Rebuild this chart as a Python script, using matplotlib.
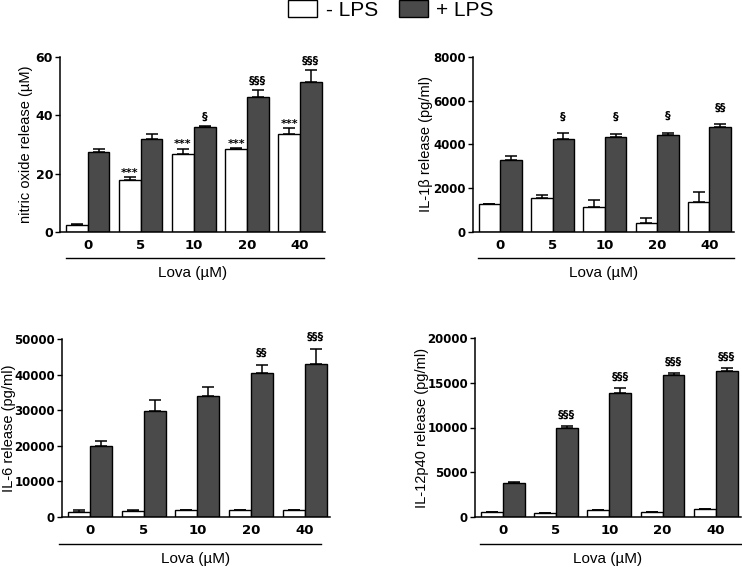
import numpy as np
import matplotlib
matplotlib.use("Agg")
import matplotlib.pyplot as plt
from matplotlib.patches import Patch

plt.rcParams['font.family'] = ['Liberation Sans', 'DejaVu Sans']

doses = ['0', '5', '10', '20', '40']
dark = '#4a4a4a'

# nitric oxide (uM)
no_minus = [2.3, 18.0, 26.6, 28.6, 33.5]
no_minus_err = [0.4, 0.9, 2.0, 0.2, 2.2]
no_plus = [27.3, 31.8, 36.0, 46.3, 51.4]
no_plus_err = [1.0, 1.8, 0.3, 2.3, 4.1]
no_minus_marks = ['', '***', '***', '***', '***']
no_plus_marks = ['', '', '§', '§§§', '§§§']

# IL-1beta (pg/ml)
il1_minus = [1280, 1550, 1140, 425, 1370]
il1_minus_err = [10, 120, 335, 200, 470]
il1_plus = [3285, 4245, 4320, 4455, 4805]
il1_plus_err = [200, 275, 170, 76, 120]
il1_minus_marks = ['', '', '', '', '']
il1_plus_marks = ['', '§', '§', '§', '§§']

# IL-6 (pg/ml)
il6_minus = [1500, 1600, 2050, 2050, 2050]
il6_minus_err = [560, 375, 0, 0, 0]
il6_plus = [19980, 29830, 33870, 40340, 42870]
il6_plus_err = [1500, 2900, 2720, 2350, 4300]
il6_minus_marks = ['', '', '', '', '']
il6_plus_marks = ['', '', '', '§§', '§§§']

# IL-12p40 (pg/ml)
il12_minus = [560, 450, 750, 520, 860]
il12_minus_err = [0, 0, 0, 0, 0]
il12_plus = [3850, 9980, 13870, 15920, 16340]
il12_plus_err = [80, 220, 520, 220, 340]
il12_minus_marks = ['', '', '', '', '']
il12_plus_marks = ['', '§§§', '§§§', '§§§', '§§§']

W, H = 742, 567
fig = plt.figure(figsize=(W / 100, H / 100), dpi=100)

def px_axes(l, r, t, b):
    return fig.add_axes([l / W, 1 - b / H, (r - l) / W, (b - t) / H])

panels = [
    (px_axes(60, 325, 57, 232), no_minus, no_minus_err, no_plus, no_plus_err,
     no_minus_marks, no_plus_marks, 'nitric oxide release (µM)', [0, 20, 40, 60],
     7, (0.023, 0.996), -0.128, 9),
    (px_axes(473, 734, 57, 232), il1_minus, il1_minus_err, il1_plus, il1_plus_err,
     il1_minus_marks, il1_plus_marks, 'IL-1β release (pg/ml)', [0, 2000, 4000, 6000, 8000],
     12, (0.02, 1.0), -0.18, 8.5),
    (px_axes(62, 330, 339, 517), il6_minus, il6_minus_err, il6_plus, il6_plus_err,
     il6_minus_marks, il6_plus_marks, 'IL-6 release (pg/ml)', [0, 10000, 20000, 30000, 40000, 50000],
     8.6, (-0.01, 0.966), -0.198, 8.5),
    (px_axes(475, 741, 338, 517), il12_minus, il12_minus_err, il12_plus, il12_plus_err,
     il12_minus_marks, il12_plus_marks, 'IL-12p40 release (pg/ml)', [0, 5000, 10000, 15000, 20000],
     8, (0.02, 1.0), -0.2, 8.5),
]

x = np.arange(len(doses))
bw = 0.41

for ax, lo, lo_e, hi, hi_e, lo_m, hi_m, ylab, yt, off, line_ext, ylab_x, ytsize in panels:
    lo = np.array(lo, float); hi = np.array(hi, float)
    lo_e = np.array(lo_e, float); hi_e = np.array(hi_e, float)
    ax.bar(x - bw / 2, lo, bw, color='white', edgecolor='black', linewidth=1.0, zorder=2)
    ax.bar(x + bw / 2, hi, bw, color=dark, edgecolor='black', linewidth=1.0, zorder=2)
    ax.errorbar(x - bw / 2, lo, yerr=[np.zeros_like(lo), lo_e], fmt='none',
                ecolor='black', elinewidth=1.1, capsize=4, capthick=1.1, zorder=1)
    ax.errorbar(x + bw / 2, hi, yerr=[np.zeros_like(hi), hi_e], fmt='none',
                ecolor='black', elinewidth=1.1, capsize=4, capthick=1.1, zorder=1)

    for i in range(len(doses)):
        if lo_m[i]:
            ax.annotate(lo_m[i], (x[i] - bw / 2, lo[i] + lo_e[i]), xytext=(0, 3),
                        textcoords='offset points', ha='center', va='center',
                        fontsize=8, fontweight='bold', family='DejaVu Sans')
        if hi_m[i]:
            ax.annotate(hi_m[i], (x[i] + bw / 2, hi[i] + hi_e[i]), xytext=(0, off),
                        textcoords='offset points', ha='center', va='center',
                        fontsize=8, fontweight='bold', family='DejaVu Sans')

    ax.set_xlim(-0.52, 4.47)
    ax.set_ylim(0, yt[-1])
    ax.set_yticks(yt)
    ax.set_xticks(x)
    ax.set_xticklabels(doses)
    for lab in ax.get_xticklabels():
        lab.set_family('DejaVu Sans')
        lab.set_fontweight('bold')
        lab.set_fontsize(9.5)
    for lab in ax.get_yticklabels():
        lab.set_family('DejaVu Sans')
        lab.set_fontweight('bold')
        lab.set_fontsize(ytsize)
    ax.tick_params(axis='x', length=0, pad=5)
    ax.tick_params(axis='y', length=3.5, width=1.0, pad=1.5)
    ax.spines['top'].set_visible(False)
    ax.spines['right'].set_visible(False)
    ax.spines['left'].set_linewidth(1.1)
    ax.spines['bottom'].set_linewidth(1.1)
    ax.set_ylabel(ylab, fontsize=10.5, va='center')
    ax.yaxis.set_label_coords(ylab_x, 0.5)

    ax.plot(line_ext, [-0.149, -0.149], transform=ax.transAxes, clip_on=False,
            color='black', lw=1.0)
    ax.text(0.5, -0.234, 'Lova (µM)', transform=ax.transAxes, ha='center',
            va='center', fontsize=11)

handles = [Patch(facecolor='white', edgecolor='black', linewidth=1.0),
           Patch(facecolor=dark, edgecolor='black', linewidth=1.0)]
fig.legend(handles, ['- LPS', '+ LPS'], ncol=2, loc='center',
           bbox_to_anchor=(0.527, 1 - 10 / H), frameon=False, fontsize=15,
           handlelength=1.4, handleheight=0.9, handletextpad=0.4,
           columnspacing=1.0, borderpad=0.1)

fig.savefig('out.png', dpi=100)
